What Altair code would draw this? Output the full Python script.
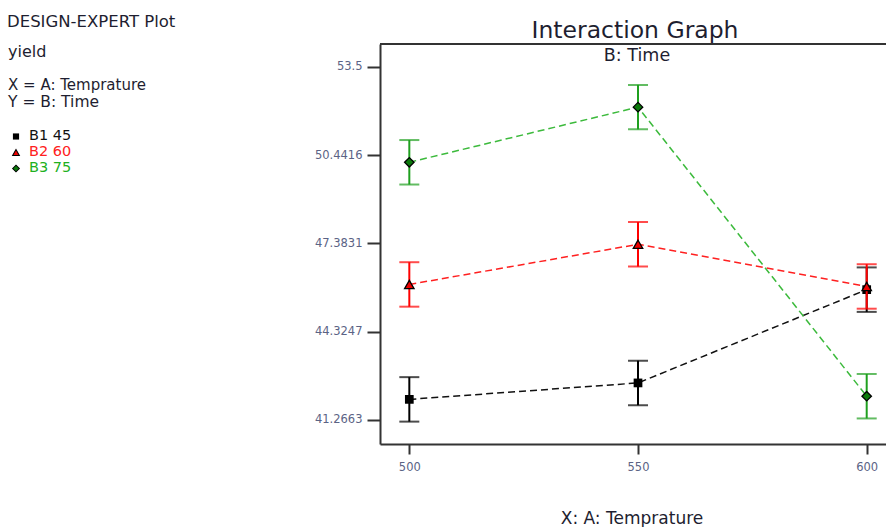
import altair as alt
import pandas as pd

# Factor levels and measured responses
temperatures = [500, 550, 600]
time_levels = ["B1 45", "B2 60", "B3 75"]
yield_b1 = [41.98, 42.55, 45.78]
yield_b2 = [45.96, 47.35, 45.89]
yield_b3 = [50.19, 52.10, 42.09]
lsd_half_width = [0.77, 0.77, 0.77]  # half-length of the LSD bars, per time level

y_tick_values = [41.2663, 44.3247, 47.3831, 50.4416, 53.5]
x_tick_values = [500, 550, 600]

FONT = "DejaVu Sans"
FRAME = "#333333"
TICK_LABEL = "#5b6385"
TEXT = "#1e1e30"

W, H = 506, 400
PAD_LEFT, PAD_TOP, PAD_BOTTOM = 380, 44, 83

rows = []
for level, ys, half in zip(time_levels, [yield_b1, yield_b2, yield_b3], lsd_half_width):
    for t, v in zip(temperatures, ys):
        rows.append({"temp": t, "level": level, "yield": v, "lo": v - half, "hi": v + half})
df = pd.DataFrame(rows)

x_scale = alt.Scale(domain=[493.59, 604.22], nice=False, zero=False)
y_scale = alt.Scale(domain=[40.435, 54.286], nice=False, zero=False)

x_axis = alt.Axis(values=x_tick_values, format="d", title=None, grid=False,
                  tickSize=10, tickWidth=2, tickColor=FRAME,
                  domainWidth=2, domainColor=FRAME,
                  labelFont=FONT, labelFontSize=11.5, labelColor=TICK_LABEL, labelPadding=7)
y_axis = alt.Axis(values=y_tick_values, format=".6~g", title=None, grid=False,
                  tickSize=13, tickWidth=2, tickColor=FRAME,
                  domainWidth=2, domainColor=FRAME,
                  labelFont=FONT, labelFontSize=11.5, labelColor=TICK_LABEL, labelPadding=5)


def xq(field="temp"):
    return alt.X(f"{field}:Q", scale=x_scale, axis=x_axis)


def yq(field):
    return alt.Y(f"{field}:Q", scale=y_scale, axis=y_axis)


base = alt.Chart(df)

styles = {
    "B1 45": dict(line="#111111", bar="#000000", shape="square", fill="#000000", size=76, stroke_w=0),
    "B2 60": dict(line="#ff2020", bar="#ff0000", shape="triangle-up", fill="#ee0000", size=90, stroke_w=1.3),
    "B3 75": dict(line="#3cba3c", bar="#1fa01f", shape="diamond", fill="#0b7a0b", size=90, stroke_w=1.3),
}

layers = []
for level in time_levels:
    s = styles[level]
    sub = base.transform_filter(alt.datum.level == level)
    layers.append(sub.mark_line(color=s["line"], strokeWidth=1.5, strokeDash=[7, 4]).encode(
        x=xq(), y=yq("yield")))
    layers.append(sub.mark_rule(color=s["bar"], strokeWidth=2).encode(
        x=xq(), y=yq("lo"), y2="hi:Q"))
    for end in ["lo", "hi"]:
        layers.append(sub.mark_tick(color=s["bar"], orient="horizontal", size=20, thickness=2).encode(
            x=xq(), y=yq(end)))
    layers.append(sub.mark_point(shape=s["shape"], filled=True, fill=s["fill"], stroke="#000000",
                                 strokeWidth=s["stroke_w"], size=s["size"], opacity=1).encode(
        x=xq(), y=yq("yield")))

one = alt.Data(values=[{}])

# top edge of the frame
layers.append(alt.Chart(one).mark_rule(color=FRAME, strokeWidth=2).encode(
    x=alt.value(0), x2=alt.value(W), y=alt.value(0)))


def label(text, x, y, size, color=TEXT, align="left"):
    return alt.Chart(one).mark_text(text=text, font=FONT, fontSize=size, color=color,
                                    align=align, baseline="alphabetic").encode(
        x=alt.value(x), y=alt.value(y))


layers += [
    label("Interaction Graph", 255, 37.5 - PAD_TOP, 23.5, align="center"),
    label("B: Time", 257, 60.5 - PAD_TOP, 17.5, align="center"),
    label("X: A: Temprature", 252, 524 - PAD_TOP, 17, align="center"),
    label("DESIGN-EXPERT Plot", 7 - PAD_LEFT, 26.7 - PAD_TOP, 16.5),
    label("yield", 8 - PAD_LEFT, 57.3 - PAD_TOP, 16),
    label("X = A: Temprature", 8 - PAD_LEFT, 90 - PAD_TOP, 15),
    label("Y = B: Time", 8 - PAD_LEFT, 106.7 - PAD_TOP, 15.5),
]

legend_rows = [("B1 45", "#111111", 140), ("B2 60", "#ff2020", 156), ("B3 75", "#20b020", 172)]
for lvl, col, yb in legend_rows:
    s = styles[lvl]
    layers.append(label(lvl.replace(" ", "  "), 29 - PAD_LEFT, yb - PAD_TOP, 14.5, color=col))
    layers.append(alt.Chart(one).mark_point(shape=s["shape"], filled=True, fill=s["fill"],
                                            stroke="#000000", strokeWidth=s["stroke_w"] * 0.8,
                                            size=s["size"] * 0.5, opacity=1).encode(
        x=alt.value(16 - PAD_LEFT), y=alt.value(yb - 3.5 - PAD_TOP)))

chart = alt.layer(*layers).properties(
    width=W, height=H,
    padding={"left": PAD_LEFT, "top": PAD_TOP, "right": 0, "bottom": PAD_BOTTOM},
    autosize=alt.AutoSizeParams(type="none"),
    background="white",
).configure_view(stroke=None)

chart.save("out.html", embed_options={"renderer": "svg", "actions": False})
